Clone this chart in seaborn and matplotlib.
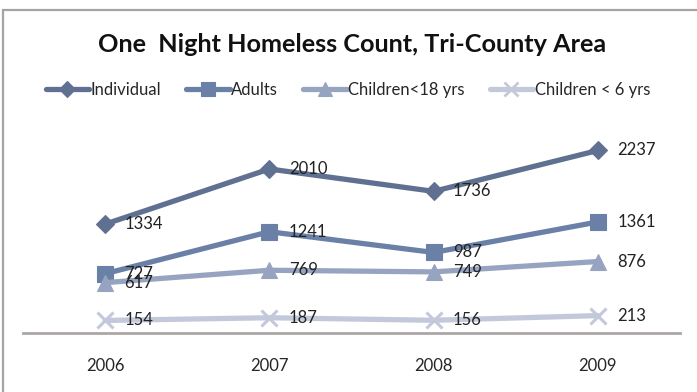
import matplotlib
matplotlib.use("Agg")
import matplotlib.pyplot as plt
from matplotlib.patches import Rectangle
from matplotlib.lines import Line2D
import seaborn as sns
import pandas as pd

years = [2006, 2007, 2008, 2009]
individual = [1334, 2010, 1736, 2237]
adults = [727, 1241, 987, 1361]
children_18 = [617, 769, 749, 876]
children_6 = [154, 187, 156, 213]

series_names = ["Individual", "Adults", "Children<18 yrs", "Children < 6 yrs"]
series_values = [individual, adults, children_18, children_6]
colors = ["#5F7091", "#6B80A6", "#97A4C1", "#C3C9DB"]
markers = ["D", "s", "^", "x"]
marker_sizes = [9, 11, 11, 11]

df = pd.DataFrame({
    "year": years * len(series_names),
    "count": [v for vals in series_values for v in vals],
    "series": [n for n in series_names for _ in years],
})

sns.set_theme(style="white")
plt.rcParams["font.family"] = ["Lato", "DejaVu Sans"]

fig = plt.figure(figsize=(6.97, 3.92), dpi=100)
ax = fig.add_axes([23 / 697, (392 - 333) / 392, (680 - 23) / 697, (333 - 129) / 392])

for name, vals, c, m, ms in zip(series_names, series_values, colors, markers, marker_sizes):
    sub = df[df["series"] == name]
    sns.lineplot(data=sub, x="year", y="count", ax=ax, color=c, lw=3.8,
                 marker=m, markersize=ms, markeredgecolor=c,
                 markeredgewidth=2.2 if m == "x" else 0.8, legend=False)
    for x, y in zip(years, vals):
        ax.annotate(f"{y}", (x, y), xytext=(14, 0), textcoords="offset points",
                    ha="left", va="center", fontsize=12, color="#222222")

ax.set_xlim(2005.5, 2009.5)
ax.set_ylim(0, 2500)
ax.set_xticks(years)
ax.set_xticklabels([str(y) for y in years], fontsize=12, color="#262626")
ax.tick_params(axis="x", length=0, pad=18)
ax.set_yticks([])
ax.set_xlabel("")
ax.set_ylabel("")
for side in ["top", "right", "left"]:
    ax.spines[side].set_visible(False)
ax.spines["bottom"].set_color("#ADA6A6")
ax.spines["bottom"].set_linewidth(2)

fig.text(352 / 697, 1 - 44 / 392, "One  Night Homeless Count, Tri-County Area",
         ha="center", va="center", fontsize=18.2, fontweight="bold", color="#111111")

handles = [Line2D([0], [0], color=c, lw=3.8, marker=m, markersize=ms * 0.9,
                  markeredgecolor=c, markeredgewidth=2 if m == "x" else 0.8)
           for c, m, ms in zip(colors, markers, marker_sizes)]
fig.legend(handles, series_names, loc="center", bbox_to_anchor=(348 / 697, 1 - 90 / 392),
           ncol=4, frameon=False, fontsize=12, handlelength=2.6, handletextpad=0.1,
           columnspacing=1.5, labelcolor="#262626")

fig.patches.append(Rectangle((3 / 697, -0.05), 1.2, 1 - 10 / 392 + 0.05,
                             transform=fig.transFigure, fill=False,
                             edgecolor="#A8A3A3", lw=1.6))

fig.savefig("out.png", dpi=100)
